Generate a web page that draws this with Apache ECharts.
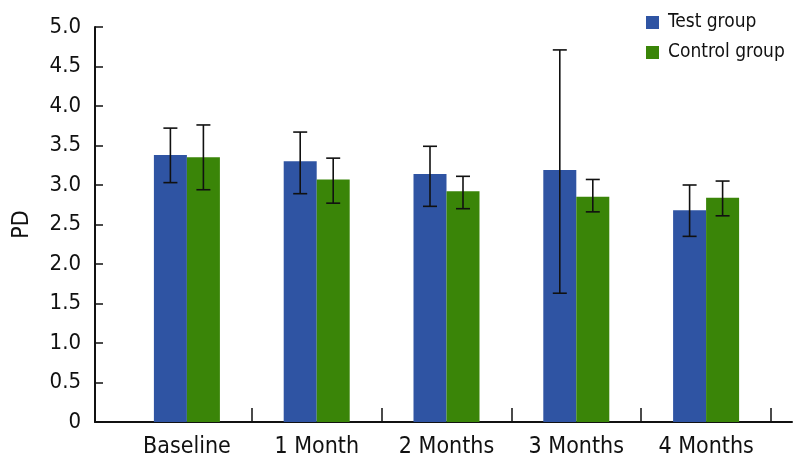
<!DOCTYPE html>
<html><head><meta charset="utf-8">
<script src="https://cdn.jsdelivr.net/npm/echarts@6/dist/echarts.min.js"></script>
<style>html,body{margin:0;padding:0;background:#fff}#c{width:795px;height:470px}</style>
</head><body><div id="c"></div>
<script>
const categories = ['Baseline', '1 Month', '2 Months', '3 Months', '4 Months'];
const testMean = [3.38, 3.30, 3.14, 3.19, 2.68];
const testLow = [3.03, 2.89, 2.73, 1.63, 2.35];
const testHigh = [3.72, 3.67, 3.49, 4.71, 3.00];
const ctrlMean = [3.35, 3.07, 2.92, 2.85, 2.84];
const ctrlLow = [2.94, 2.77, 2.70, 2.66, 2.61];
const ctrlHigh = [3.76, 3.34, 3.11, 3.07, 3.05];
const yTicks = [0, 0.5, 1.0, 1.5, 2.0, 2.5, 3.0, 3.5, 4.0, 4.5, 5.0];

const FONT = '"Liberation Sans Narrow", "DejaVu Sans Condensed", sans-serif';
const BLUE = '#2F54A3', GREEN = '#3A8508';
const BAR_W = 33;

function errSeries(name, low, high, side) {
  return {
    type: 'custom', name: name + ' err', xAxisIndex: 0, yAxisIndex: 0, z: 5,
    data: low.map((l, i) => [i, l, high[i]]),
    renderItem: function (params, api) {
      const i = api.value(0);
      const lo = api.coord([i, api.value(1)]);
      const hi = api.coord([i, api.value(2)]);
      const x = lo[0] + side * BAR_W / 2;
      const cap = 7;
      const st = { stroke: '#111', lineWidth: 1.6 };
      return { type: 'group', children: [
        { type: 'line', shape: { x1: x, y1: hi[1], x2: x, y2: lo[1] }, style: st },
        { type: 'line', shape: { x1: x - cap, y1: hi[1], x2: x + cap, y2: hi[1] }, style: st },
        { type: 'line', shape: { x1: x - cap, y1: lo[1], x2: x + cap, y2: lo[1] }, style: st }
      ]};
    }
  };
}

const chart = echarts.init(document.getElementById('c'), null, { renderer: 'canvas' });
chart.setOption({
  animation: false,
  textStyle: { fontFamily: FONT },
  grid: [
    { left: 122, right: 24, top: 27, bottom: 48 },
    { left: 95, right: 3, top: 27, bottom: 48 }
  ],
  legend: {
    orient: 'vertical', left: 641, top: 8, itemWidth: 13, itemHeight: 13, itemGap: 11,
    icon: 'rect', data: ['Test group', 'Control group'],
    textStyle: { fontFamily: FONT, fontSize: 19, color: '#111', padding: [0, 0, 0, 4] }
  },
  xAxis: [
    { type: 'category', gridIndex: 0, data: categories,
      axisLine: { show: false },
      axisTick: { show: true, inside: true, length: 14, lineStyle: { color: '#111', width: 1.5 },
        interval: function (idx) { return idx !== 0; } },
      axisLabel: { color: '#111', fontSize: 23, fontFamily: FONT, margin: 14 } },
    { type: 'value', gridIndex: 1, min: 0, max: 1,
      axisLine: { show: true, lineStyle: { color: '#111', width: 2 } },
      axisTick: { show: false }, axisLabel: { show: false }, splitLine: { show: false } }
  ],
  yAxis: [
    { type: 'value', gridIndex: 0, min: 0, max: 5, interval: 0.5, offset: 27,
      name: 'PD', nameLocation: 'middle', nameGap: 61,
      nameTextStyle: { fontSize: 23, color: '#111', fontFamily: FONT },
      axisLine: { show: true, lineStyle: { color: '#111', width: 2 } },
      axisTick: { show: true, inside: true, length: 8, lineStyle: { color: '#111', width: 1.5 } },
      axisLabel: { color: '#111', fontSize: 22, fontFamily: FONT, margin: 14,
        formatter: v => (v === 0 ? '0' : v.toFixed(1)) },
      splitLine: { show: false } },
    { type: 'value', gridIndex: 1, show: false, min: 0, max: 1 }
  ],
  series: [
    { type: 'bar', name: 'Test group', data: testMean, barWidth: BAR_W, barGap: '0%',
      itemStyle: { color: BLUE } },
    { type: 'bar', name: 'Control group', data: ctrlMean, barWidth: BAR_W, barGap: '0%',
      itemStyle: { color: GREEN } },
    errSeries('Test group', testLow, testHigh, -1),
    errSeries('Control group', ctrlLow, ctrlHigh, 1)
  ]
});
</script></body></html>
